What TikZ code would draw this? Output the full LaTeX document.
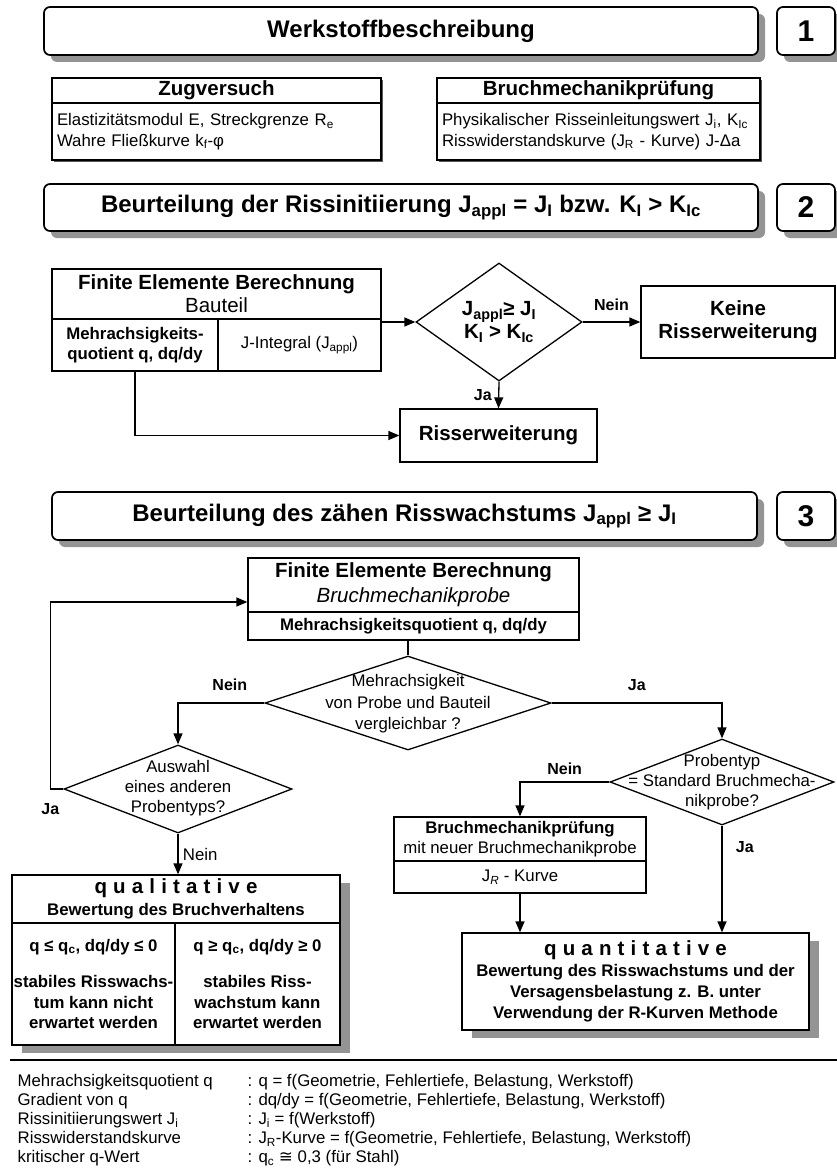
\documentclass[tikz,border=0pt]{standalone}
\usepackage{fontspec}
\setmainfont{Liberation Sans}
\newfontfamily\symfont{DejaVu Sans}
\usetikzlibrary{shapes,arrows.meta,positioning,calc}

\begin{document}
\begin{tikzpicture}[x=1pt, y=-1pt, line width=1.3pt,
    >={Triangle[length=11pt,width=9pt]},
    font=\fontsize{16.8}{20.5}\selectfont,
    hdr/.style={draw, fill=white, rounded corners=6pt, line width=1.7pt, inner sep=0pt,
        font=\fontsize{24}{28}\selectfont\bfseries},
    nummer/.style={hdr, minimum width=58, minimum height=48, font=\fontsize{30}{34}\selectfont\bfseries},
    box/.style={draw, fill=white, inner sep=0pt, align=center},
    ttl/.style={font=\fontsize{20.5}{23}\selectfont\bfseries},
    fett/.style={font=\fontsize{16.8}{20.5}\selectfont\bfseries},
    dec/.style={draw, fill=white, diamond, inner sep=0pt, align=center},
    dectext/.style={align=center, inner sep=0pt, font=\fontsize{16.8}{20}\selectfont},
    lbl/.style={font=\fontsize{16}{19}\selectfont\bfseries},
    shd/.style={fill=black!42}]
    \useasboundingbox (0,0) rectangle (837,1172);

    % Werkstoffbeschreibung
    \fill[shd, rounded corners=6pt] (51,14) rectangle (765,62);
    \fill[shd, rounded corners=6pt] (784,14) rectangle (842,62);
    \node[hdr, minimum width=714, minimum height=48] (kopf1) at (401,31) {Werkstoffbeschreibung};
    \node[nummer] (nr1) at (806,31) {1};

    \fill[black!65] (54,80) rectangle (383,162);
    \fill[black!65] (439,80) rectangle (762,162);
    \node[box, ttl, minimum width=329, minimum height=25] (zugkopf) at (216.5,90.5) {Zugversuch};
    \node[box, minimum width=329, minimum height=57, text width=319, align=left] (zugtext) at (216.5,131.5)
        {Elastizitätsmodul E, Streckgrenze R\textsubscript{e}\\Wahre Fließkurve k\textsubscript{f}-φ};
    \node[box, ttl, minimum width=323, minimum height=25] (bmkopf) at (598.5,90.5) {Bruchmechanikprüfung};
    \node[box, minimum width=323, minimum height=57, text width=313, align=left] (bmtext) at (598.5,131.5)
        {Physikalischer Risseinleitungswert J\textsubscript{i}, K\textsubscript{Ic}\\Risswiderstandskurve (J\textsubscript{R} - Kurve) J-Δa};

    % Rissinitiierung
    \fill[shd, rounded corners=6pt] (51,191) rectangle (765,238);
    \fill[shd, rounded corners=6pt] (784,191) rectangle (842,238);
    \node[hdr, minimum width=714, minimum height=47] (kopf2) at (401,207.5)
        {Beurteilung der Rissinitiierung J\textsubscript{appl} = J\textsubscript{I} bzw. K\textsubscript{I} > K\textsubscript{Ic}};
    \node[nummer, minimum height=47] (nr2) at (806,207.5) {2};

    \node[box, ttl, minimum width=329, minimum height=50] (febau) at (216.5,294) {Finite Elemente Berechnung\\\mdseries Bauteil};
    \node[box, fett, minimum width=166, minimum height=52] (fequot) at (135,345) {Mehrachsigkeits-\\quotient q, dq/dy};
    \node[box, minimum width=163, minimum height=52] (fejint) at (299.5,345) {J-Integral (J\textsubscript{appl})};
    \node[dec, ttl, minimum width=166, minimum height=118] (krit) at (499,322)
        {J\textsubscript{appl}≥ J\textsubscript{I}\\K\textsubscript{I} > K\textsubscript{Ic}};
    \node[box, ttl, minimum width=194, minimum height=72] (keine) at (738,322) {Keine\\Risserweiterung};
    \node[box, ttl, minimum width=197, minimum height=53] (riss) at (498.5,435.5) {Risserweiterung};

    \draw[->] (fejint.east |- krit.west) -- (krit.west);
    \draw[->] (krit.east) -- node[lbl, above=7pt] (nein1) {Nein} (keine.west);
    \draw[->] (krit.south) -- node[lbl, left=3pt] (ja1) {Ja} (riss.north);
    \draw[->] (fequot.south) |- (riss.west);

    % zaehes Risswachstum
    \fill[shd, rounded corners=6pt] (59,499) rectangle (764,547);
    \fill[shd, rounded corners=6pt] (784,499) rectangle (842,547);
    \node[hdr, minimum width=705, minimum height=48] (kopf3) at (404.5,516)
        {Beurteilung des zähen Risswachstums J\textsubscript{appl} ≥ J\textsubscript{I}};
    \node[nummer] (nr3) at (806,516) {3};

    \node[box, ttl, minimum width=331, minimum height=54] (feprobe) at (413.5,585)
        {Finite Elemente Berechnung\\[2pt]\mdseries\itshape Bruchmechanikprobe};
    \node[box, fett, minimum width=331, minimum height=28] (feprobeq) at (413.5,626) {Mehrachsigkeitsquotient q, dq/dy};

    \node[dec, minimum width=286, minimum height=94] (vergl) at (408,703) {};
    \node[dectext, font=\fontsize{16.8}{21.5}\selectfont] (vergltext) at (408,704)
        {Mehrachsigkeit\\von Probe und Bauteil\\vergleichbar ?};
    \node[dec, minimum width=228, minimum height=88] (auswahl) at (178,789) {};
    \node[dectext] (auswahltext) at (178,788) {Auswahl\\eines anderen\\Probentyps?};
    \node[dec, minimum width=224, minimum height=86] (probe) at (722,782) {};
    \node[dectext] (probetext) at (722,782) {Probentyp\\= Standard Bruchmecha-\\nikprobe?};

    \node[box, font=\fontsize{16.8}{19.5}\selectfont, minimum width=252, minimum height=44] (bruchneu) at (520,839)
        {\bfseries Bruchmechanikprüfung\\mit neuer Bruchmechanikprobe};
    \node[box, minimum width=252, minimum height=32] (bruchjr) at (520,877) {J\textsubscript{\textit{R}} - Kurve};

    % qualitative Bewertung
    \fill[shd] (22,883) rectangle (350,1053);
    \node[box, fett, minimum width=328, minimum height=48] (qualkopf) at (176,899)
        {{\fontsize{20.5}{23}\selectfont\addfontfeatures{LetterSpace=30}qualitative}\\[2pt]Bewertung des Bruchverhaltens};
    \node[box, fett, minimum width=163, minimum height=122] (qlinks) at (93.5,984)
        {q ≤ q\textsubscript{c}, dq/dy ≤ 0\\[16pt]stabiles Risswachs-\\tum kann nicht\\erwartet werden};
    \node[box, fett, minimum width=165, minimum height=122] (qrechts) at (257.5,984)
        {q ≥ q\textsubscript{c}, dq/dy ≥ 0\\[16pt]stabiles Riss-\\wachstum kann\\erwartet werden};

    % quantitative Bewertung
    \fill[shd] (472,941) rectangle (819,1038);
    \node[box, font=\fontsize{16.8}{21}\selectfont\bfseries, minimum width=347, minimum height=97] (quant) at (635.5,981.5)
        {{\fontsize{20.5}{23}\selectfont\addfontfeatures{LetterSpace=30}quantitative}\\Bewertung des Risswachstums und der\\Versagensbelastung z. B. unter\\Verwendung der R-Kurven Methode};

    \draw[->] (auswahl.west) -- ++(-13,0) node[lbl, below=10pt] (ja3) {Ja} |- ([yshift=-17pt]feprobe.west);
    \draw (vergl.north |- feprobeq.south) -- (vergl.north);
    \draw[->] (vergl.west) -| node[lbl, pos=0.2, above=8pt] (nein3) {Nein} (auswahl.north);
    \draw[->] (vergl.east) -| node[lbl, pos=0.25, above=8pt] (ja4) {Ja} (probe.north);
    \draw[->] (auswahl.south) -- node[right=1pt] (nein4) {Nein} (qualkopf.north -| auswahl.south);
    \draw[->] (probe.west) -| node[lbl, pos=0.25, above=3pt] (nein5) {Nein} (bruchneu.north);
    \draw[->] (bruchjr.south) -- (bruchjr.south |- quant.north);
    \draw[->] (probe.south) -- node[lbl, pos=0.2, right=10pt] (ja5) {Ja} (probe.south |- quant.north);

    % Legende
    \draw[line width=1.6pt] (10,1060) -- (837,1060);
    \node[anchor=north west, inner sep=0pt, font=\fontsize{16.8}{19}\selectfont] (legende) at (17,1073)
        {\begin{tabular}{@{}p{230pt}@{}l@{}}
        Mehrachsigkeitsquotient q & : q = f(Geometrie, Fehlertiefe, Belastung, Werkstoff)\\
        Gradient von q & : dq/dy = f(Geometrie, Fehlertiefe, Belastung, Werkstoff)\\
        Rissinitiierungswert J\textsubscript{i} & : J\textsubscript{i} = f(Werkstoff)\\
        Risswiderstandskurve & : J\textsubscript{R}-Kurve = f(Geometrie, Fehlertiefe, Belastung, Werkstoff)\\
        kritischer q-Wert & : q\textsubscript{c} {\symfont ≅} 0,3 (für Stahl)
        \end{tabular}};
\end{tikzpicture}
\end{document}
